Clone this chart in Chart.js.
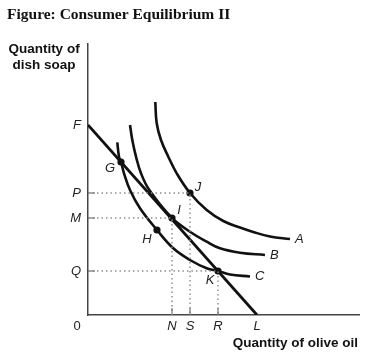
<!DOCTYPE html>
<html>
<head>
<meta charset="utf-8">
<script src="https://cdn.jsdelivr.net/npm/chart.js@4/dist/chart.umd.min.js"></script>
<style>
  html, body { margin: 0; padding: 0; background: #ffffff; }
  canvas { display: block; }
</style>
</head>
<body>
<canvas id="c" width="373" height="360"></canvas>
<script>
// ---- data (arbitrary quantity units) ----
const titleText = "Figure: Consumer Equilibrium II";
const yAxisTitle = ["Quantity of", "dish soap"];
const xAxisTitle = "Quantity of olive oil";

const yTickValues = [44, 97, 122, 190];
const yTickLabels = ["Q", "M", "P", "F"];
const xTickValues = [84, 102, 130, 169];
const xTickLabels = ["N", "S", "R", "L"];
const originLabel = "0";

const budgetLine = [{x: 0, y: 190}, {x: 169, y: 0}];

const curveA = [{x:67.3,y:213},{x:68.7,y:191.7},{x:73,y:175},{x:80.3,y:158.3},{x:88.7,y:141.7},{x:102,y:122},{x:118.7,y:105},{x:135.3,y:94},{x:152,y:87.5},{x:165.3,y:83},{x:182,y:78.5},{x:202,y:76}];
const curveB = [{x:42,y:190},{x:44.3,y:175},{x:48,y:158.3},{x:53,y:141.7},{x:61.3,y:125},{x:84,y:97},{x:102,y:83.3},{x:118.7,y:73.3},{x:132,y:66.7},{x:152,y:62.3},{x:177,y:60}];
const curveC = [{x:29.3,y:172.7},{x:31,y:158.3},{x:33,y:153},{x:36,y:141.7},{x:42,y:125},{x:52,y:106.7},{x:69,y:85},{x:85.3,y:66.7},{x:102,y:55},{x:118.7,y:46.7},{x:130,y:44},{x:142,y:40.5},{x:162,y:38.5}];
const curveNames = ["A", "B", "C"];

const pointNames = ["G", "J", "I", "H", "K"];
const pointX = [33, 102, 84, 69, 130];
const pointY = [153, 122, 97, 85, 44];

// dotted guide lines: P-J-S, M-I-N, Q-K-R
const guideP = [{x:0,y:122},{x:102,y:122},{x:102,y:0}];
const guideM = [{x:0,y:97},{x:84,y:97},{x:84,y:0}];
const guideQ = [{x:0,y:44},{x:130,y:44},{x:130,y:0}];

const xMax = 271, yMax = 271;

// ---- styles ----
const SANS = '"Liberation Sans", Arial, sans-serif';
const SERIF = '"Liberation Serif", "Times New Roman", serif';
const curveStyle = {borderColor:'#111', borderWidth:2.6, pointRadius:0, showLine:true, fill:false, tension:0.4};
const guideStyle = {borderColor:'#888', borderWidth:1.4, borderDash:[1.4,3.1], pointRadius:0, showLine:true, fill:false, tension:0};

const pointOffsets = {G:[-11,6], J:[8,-6], I:[7,-8], H:[-10,9], K:[-8,9]};

const annotations = {
  id: 'annotations',
  afterDraw(chart) {
    const ctx = chart.ctx;
    const xs = chart.scales.x, ys = chart.scales.y;
    ctx.save();
    // inward tick marks
    ctx.strokeStyle = '#777'; ctx.lineWidth = 1.2;
    [44, 97, 122].forEach(v => {
      const py = ys.getPixelForValue(v);
      ctx.beginPath(); ctx.moveTo(xs.getPixelForValue(0), py); ctx.lineTo(xs.getPixelForValue(0) + 7, py); ctx.stroke();
    });
    [84, 102, 130].forEach(v => {
      const px = xs.getPixelForValue(v);
      ctx.beginPath(); ctx.moveTo(px, ys.getPixelForValue(0)); ctx.lineTo(px, ys.getPixelForValue(0) - 7); ctx.stroke();
    });
    ctx.fillStyle = '#111';
    // title
    ctx.font = 'bold 15.5px ' + SERIF;
    ctx.textAlign = 'left'; ctx.textBaseline = 'alphabetic';
    ctx.fillText(titleText, 7, 19);
    // y axis title
    ctx.font = 'bold 13.5px ' + SANS;
    ctx.textAlign = 'center';
    ctx.fillText(yAxisTitle[0], 44, 53);
    ctx.fillText(yAxisTitle[1], 44, 69);
    // x axis title
    ctx.textAlign = 'right';
    ctx.fillText(xAxisTitle, 358, 347);
    // origin
    ctx.font = '13px ' + SANS;
    ctx.textAlign = 'center'; ctx.textBaseline = 'middle';
    ctx.fillStyle = '#222';
    ctx.fillText(originLabel, 77, 326);
    // point labels
    ctx.font = 'italic 13px ' + SANS;
    pointNames.forEach((n, i) => {
      const px = xs.getPixelForValue(pointX[i]), py = ys.getPixelForValue(pointY[i]);
      const o = pointOffsets[n];
      ctx.fillText(n, px + o[0], py + o[1]);
    });
    // curve labels
    ctx.textAlign = 'left';
    [curveA, curveB, curveC].forEach((c, i) => {
      const last = c[c.length - 1];
      ctx.fillText(curveNames[i], xs.getPixelForValue(last.x) + 5, ys.getPixelForValue(last.y));
    });
    ctx.restore();
  }
};

new Chart(document.getElementById('c'), {
  type: 'scatter',
  data: {
    datasets: [
      Object.assign({data: guideP}, guideStyle),
      Object.assign({data: guideM}, guideStyle),
      Object.assign({data: guideQ}, guideStyle),
      Object.assign({data: curveA}, curveStyle),
      Object.assign({data: curveB}, curveStyle),
      Object.assign({data: curveC}, curveStyle),
      {data: budgetLine, borderColor:'#111', borderWidth:2.8, pointRadius:0, showLine:true, fill:false},
      {data: pointX.map((x, i) => ({x, y: pointY[i]})), showLine:false, pointRadius:3.6, pointBackgroundColor:'#111', pointBorderColor:'#111', pointBorderWidth:0}
    ]
  },
  options: {
    responsive: false,
    animation: false,
    devicePixelRatio: 1,
    events: [],
    layout: { padding: { left: 0, top: 44, right: 14, bottom: 0 } },
    plugins: { legend: {display:false}, tooltip: {enabled:false}, title: {display:false} },
    scales: {
      x: {
        type: 'linear', min: 0, max: xMax,
        afterBuildTicks(s) { s.ticks = xTickValues.map(v => ({value: v})); },
        afterFit(s) { s.height = 45; },
        ticks: { callback: (v) => xTickLabels[xTickValues.indexOf(v)] ?? '', font: {family: SANS, size: 13, style: 'italic'}, color: '#222', padding: 4, maxRotation: 0, autoSkip: false },
        grid: { display: true, drawOnChartArea: false, drawTicks: false, color: 'rgba(0,0,0,0)' },
        border: { display: true, color: '#444', width: 1.5 }
      },
      y: {
        type: 'linear', min: 0, max: yMax,
        afterBuildTicks(s) { s.ticks = yTickValues.map(v => ({value: v})); },
        afterFit(s) { s.width = 88; },
        ticks: { callback: (v) => yTickLabels[yTickValues.indexOf(v)] ?? '', font: {family: SANS, size: 13, style: 'italic'}, color: '#222', padding: 7, autoSkip: false },
        grid: { display: true, drawOnChartArea: false, drawTicks: false, color: 'rgba(0,0,0,0)' },
        border: { display: true, color: '#444', width: 1.5 }
      }
    }
  },
  plugins: [annotations]
});
</script>
</body>
</html>
